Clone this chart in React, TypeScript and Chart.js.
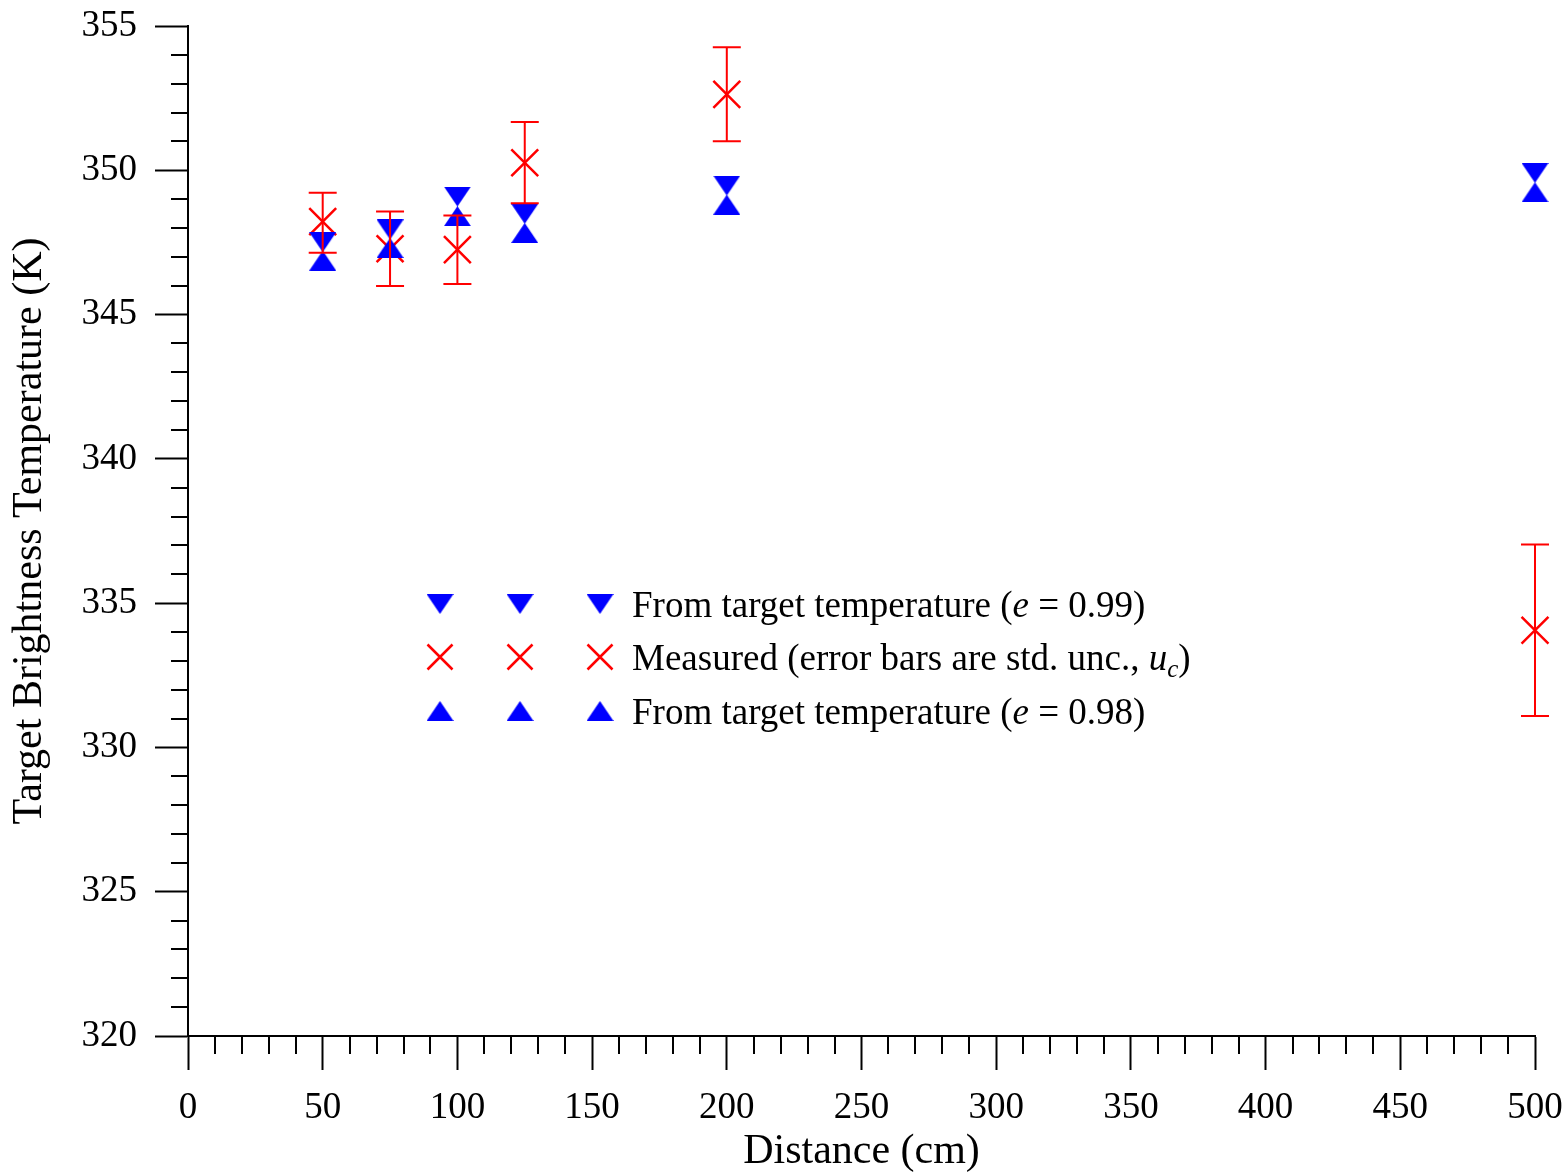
import React, { useEffect, useRef } from 'react';
import { Chart, registerables } from 'chart.js';

Chart.register(...registerables);

// ---- data ----
const distances = [50, 75, 100, 125, 200, 500];
const measured = [348.22, 347.28, 347.25, 350.26, 352.63, 334.06];
const measuredLow = [347.14, 345.99, 346.06, 348.86, 351.01, 331.09];
const measuredHigh = [349.22, 348.57, 348.43, 351.67, 354.26, 337.03];
const fromE099 = [347.51, 347.95, 349.09, 348.49, 349.47, 349.91];
const fromE098 = [346.87, 347.31, 348.41, 347.83, 348.81, 349.24];

const xMin = 0, xMax = 500, xMajorStep = 50, xMinorStep = 10;
const yMin = 320, yMax = 355, yMajorStep = 5, yMinorStep = 1;

const xTitle = 'Distance (cm)';
const yTitle = 'Target Brightness Temperature (K)';

type Seg = { t: string; italic?: boolean; sub?: boolean };
const legendRows: { marker: 'down' | 'cross' | 'up'; segs: Seg[] }[] = [
  { marker: 'down', segs: [{ t: 'From target temperature (' }, { t: 'e', italic: true }, { t: ' = 0.99)' }] },
  { marker: 'cross', segs: [{ t: 'Measured (error bars are std. unc., ' }, { t: 'u', italic: true }, { t: 'c', italic: true, sub: true }, { t: ')' }] },
  { marker: 'up', segs: [{ t: 'From target temperature (' }, { t: 'e', italic: true }, { t: ' = 0.98)' }] },
];

const FONT = "'Liberation Serif', 'Times New Roman', serif";
const BLUE = '#0000ff';
const RED = '#ff0000';
const TRI_W = 27;
const TRI_H = 20;

function makeTriangle(down: boolean): HTMLCanvasElement {
  const c = document.createElement('canvas');
  c.width = TRI_W;
  c.height = TRI_H;
  const g = c.getContext('2d')!;
  g.fillStyle = BLUE;
  g.beginPath();
  if (down) {
    g.moveTo(0, 0);
    g.lineTo(TRI_W, 0);
    g.lineTo(TRI_W / 2, TRI_H);
  } else {
    g.moveTo(TRI_W / 2, 0);
    g.lineTo(TRI_W, TRI_H);
    g.lineTo(0, TRI_H);
  }
  g.closePath();
  g.fill();
  return c;
}

export default function App() {
  const ref = useRef<HTMLCanvasElement | null>(null);

  useEffect(() => {
    document.body.style.margin = '0';
    const canvas = ref.current;
    if (!canvas) return;
    const downTri = makeTriangle(true);
    const upTri = makeTriangle(false);

    const extrasPlugin = {
      id: 'extras',
      afterDatasetsDraw(chart: any) {
        const ctx = chart.ctx as CanvasRenderingContext2D;
        const xs = chart.scales.x;
        const ys = chart.scales.y;
        ctx.save();
        ctx.strokeStyle = RED;
        ctx.lineWidth = 2;
        const cap = 14;
        distances.forEach((d, i) => {
          const px = xs.getPixelForValue(d);
          const pLo = ys.getPixelForValue(measuredLow[i]);
          const pHi = ys.getPixelForValue(measuredHigh[i]);
          ctx.beginPath();
          ctx.moveTo(px, pLo);
          ctx.lineTo(px, pHi);
          ctx.moveTo(px - cap, pLo);
          ctx.lineTo(px + cap, pLo);
          ctx.moveTo(px - cap, pHi);
          ctx.lineTo(px + cap, pHi);
          ctx.stroke();
        });
        ctx.restore();
      },
      afterDraw(chart: any) {
        const ctx = chart.ctx as CanvasRenderingContext2D;
        const xs = chart.scales.x;
        const ys = chart.scales.y;
        const area = chart.chartArea;
        ctx.save();
        ctx.strokeStyle = '#000';
        ctx.lineWidth = 2;
        ctx.beginPath();
        for (let v = xMin; v <= xMax; v += xMinorStep) {
          if (v % xMajorStep === 0) continue;
          const px = Math.round(xs.getPixelForValue(v));
          ctx.moveTo(px, area.bottom);
          ctx.lineTo(px, area.bottom + 18);
        }
        for (let v = yMin; v <= yMax; v += yMinorStep) {
          if (v % yMajorStep === 0) continue;
          const py = Math.round(ys.getPixelForValue(v));
          ctx.moveTo(area.left, py);
          ctx.lineTo(area.left - 17, py);
        }
        ctx.stroke();

        // legend
        const symX = [440, 520, 600];
        const rowY = [604, 657, 711];
        const textX = 632;
        legendRows.forEach((row, r) => {
          const cy = rowY[r];
          symX.forEach((sx) => {
            if (row.marker === 'cross') {
              ctx.strokeStyle = RED;
              ctx.lineWidth = 2.5;
              const h = 12.5;
              ctx.beginPath();
              ctx.moveTo(sx - h, cy - h);
              ctx.lineTo(sx + h, cy + h);
              ctx.moveTo(sx + h, cy - h);
              ctx.lineTo(sx - h, cy + h);
              ctx.stroke();
            } else {
              const img = row.marker === 'down' ? downTri : upTri;
              ctx.drawImage(img, sx - TRI_W / 2, cy - TRI_H / 2);
            }
          });
          let tx = textX;
          ctx.fillStyle = '#000';
          ctx.textBaseline = 'alphabetic';
          ctx.textAlign = 'left';
          const base = cy + 13;
          row.segs.forEach((s) => {
            const size = s.sub ? 25 : 37;
            ctx.font = `${s.italic ? 'italic ' : ''}${size}px ${FONT}`;
            ctx.fillText(s.t, tx, s.sub ? base + 7 : base);
            tx += ctx.measureText(s.t).width;
          });
        });
        ctx.restore();
      },
    };

    const chart = new Chart(canvas, {
      type: 'scatter',
      data: {
        datasets: [
          {
            label: 'e099',
            data: distances.map((d, i) => ({ x: d, y: fromE099[i] })),
            pointStyle: downTri as any,
            pointRadius: 14,
            clip: false as any,
          },
          {
            label: 'e098',
            data: distances.map((d, i) => ({ x: d, y: fromE098[i] })),
            pointStyle: upTri as any,
            pointRadius: 14,
            clip: false as any,
          },
          {
            label: 'measured',
            data: distances.map((d, i) => ({ x: d, y: measured[i] })),
            pointStyle: 'crossRot',
            pointRadius: 19,
            borderColor: RED,
            backgroundColor: RED,
            borderWidth: 2.5,
            clip: false as any,
          },
        ],
      },
      options: {
        responsive: false,
        animation: false,
        events: [],
        layout: { padding: { top: 26, right: 33, bottom: 0, left: 0 } },
        plugins: {
          legend: { display: false },
          tooltip: { enabled: false },
        },
        scales: {
          x: {
            type: 'linear',
            min: xMin,
            max: xMax,
            afterFit: (s: any) => {
              s.height = 138;
              s.paddingLeft = 0;
              s.paddingRight = 0;
            },
            ticks: {
              stepSize: xMajorStep,
              color: '#000',
              font: { family: FONT, size: 37 },
              padding: 16,
              maxRotation: 0,
            },
            grid: {
              display: true,
              drawOnChartArea: false,
              drawTicks: true,
              tickLength: 34,
              tickColor: '#000',
              tickWidth: 2,
            },
            border: { display: true, color: '#000', width: 2 },
            title: {
              display: true,
              text: xTitle,
              color: '#000',
              font: { family: FONT, size: 42, lineHeight: 1.0 },
              padding: { top: 0, bottom: 1 },
            },
          },
          y: {
            type: 'linear',
            min: yMin,
            max: yMax,
            afterFit: (s: any) => {
              s.width = 188;
              s.paddingTop = 0;
              s.paddingBottom = 0;
            },
            ticks: {
              stepSize: yMajorStep,
              color: '#000',
              font: { family: FONT, size: 37 },
              padding: 18,
            },
            grid: {
              display: true,
              drawOnChartArea: false,
              drawTicks: true,
              tickLength: 33,
              tickColor: '#000',
              tickWidth: 2,
            },
            border: { display: true, color: '#000', width: 2 },
            title: {
              display: true,
              text: yTitle,
              color: '#000',
              font: { family: FONT, size: 42, lineHeight: 1.0 },
              padding: { top: 9, bottom: 0 },
            },
          },
        },
      },
      plugins: [extrasPlugin],
    });

    return () => chart.destroy();
  }, []);

  return (
    <div style={{ width: 1568, height: 1174, background: '#fff' }}>
      <canvas ref={ref} width={1568} height={1174} style={{ display: 'block' }} />
    </div>
  );
}
